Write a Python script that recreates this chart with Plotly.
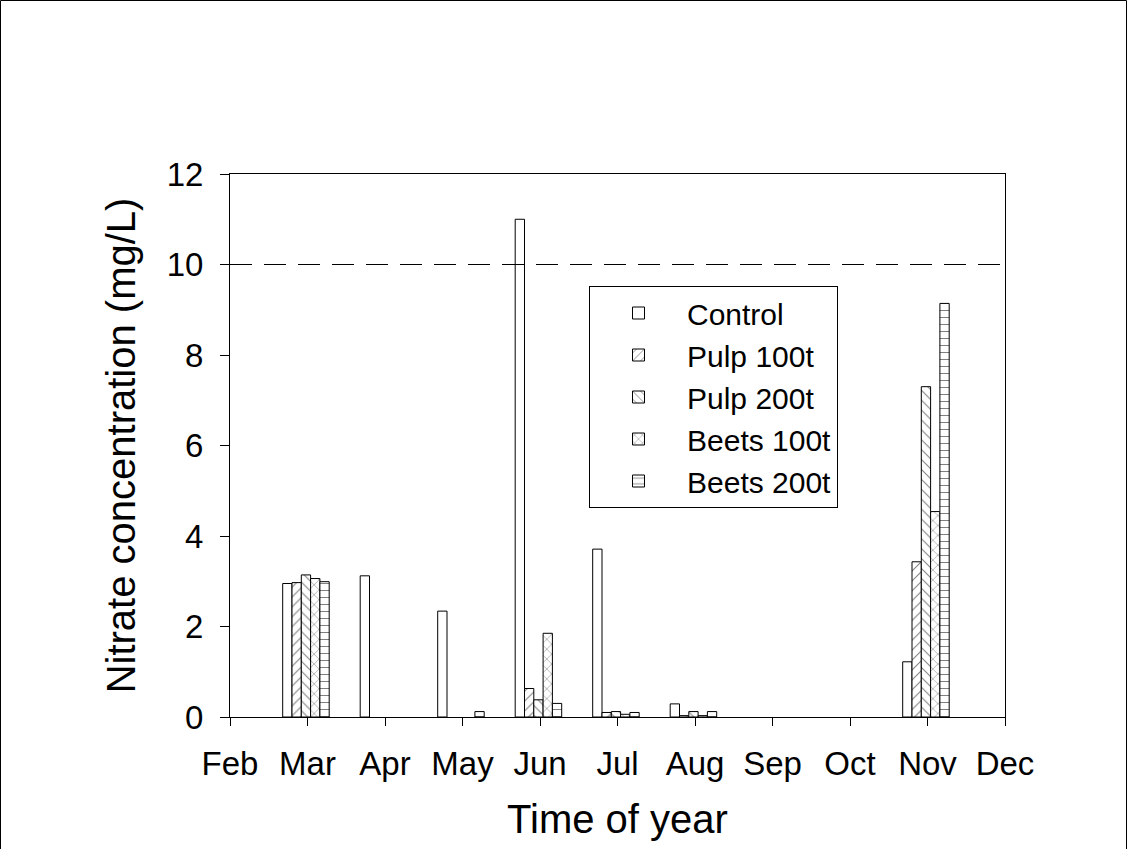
import plotly.graph_objects as go

# ---- data ----
sample_month = [2.98, 3.98, 4.98, 5.98, 6.98, 7.98, 10.98]
control = [2.95, 3.12, 2.34, 11.0, 3.71, 0.29, 1.22]
pulp_100t = [2.97, None, None, 0.63, 0.10, 0.03, 3.43]
pulp_200t = [3.14, None, None, 0.38, 0.12, 0.12, 7.30]
beets_100t = [3.06, None, None, 1.85, 0.06, 0.03, 4.54]
beets_200t = [2.99, None, 0.12, 0.30, 0.10, 0.12, 9.14]

series_names = ["Control", "Pulp 100t", "Pulp 200t", "Beets 100t", "Beets 200t"]
series_values = [control, pulp_100t, pulp_200t, beets_100t, beets_200t]
series_patterns = ["", "/", "\\", "x", "-"]

month_ticks = [2, 3, 4, 5, 6, 7, 8, 9, 10, 11, 12]
month_labels = ["Feb", "Mar", "Apr", "May", "Jun", "Jul", "Aug", "Sep", "Oct", "Nov", "Dec"]
limit_value = 10

FONT = "Liberation Sans, Arial, sans-serif"

fig = go.Figure()
for name, vals, pat in zip(series_names, series_values, series_patterns):
    fig.add_trace(go.Bar(
        x=sample_month, y=vals, name=name,
        marker=dict(
            color="white",
            line=dict(color="black", width=1),
            pattern=dict(shape=pat, fgcolor="black", bgcolor="white",
                         size=7, solidity=0.15, fillmode="overlay"),
        ),
    ))

fig.add_shape(type="line", xref="paper", x0=0, x1=1, yref="y",
              y0=limit_value, y1=limit_value,
              line=dict(color="black", width=1, dash="22px,12px"), layer="above")

# outer frame of the picture
W, H = 1128, 849
L, R, T, B = 230, 123, 174, 132
pw, ph = W - L - R, H - T - B
fig.add_shape(type="rect", xref="paper", yref="paper",
              x0=(0.5 - L) / pw, x1=(W - 1.5 - L) / pw,
              y0=(H - T - ph - (H - 1.5)) / ph, y1=(ph + T - 0.5) / ph,
              line=dict(color="black", width=1), fillcolor="rgba(0,0,0,0)")

fig.update_layout(
    width=W, height=H,
    margin=dict(l=L, r=R, t=T, b=B),
    paper_bgcolor="white", plot_bgcolor="white",
    font=dict(family=FONT, size=33, color="black"),
    barmode="group", bargap=0.4, bargroupgap=0,
    showlegend=True,
    legend=dict(
        x=(589 - L) / pw, y=(H - B - 286) / ph, xanchor="left", yanchor="top",
        bgcolor="white", bordercolor="black", borderwidth=1,
        font=dict(family=FONT, size=30, color="black"),
        itemwidth=87, traceorder="normal",
    ),
    xaxis=dict(
        range=[2, 12], tickmode="array", tickvals=month_ticks, ticktext=month_labels,
        ticks="outside", ticklen=8, tickwidth=1, tickcolor="black",
        showline=True, linecolor="black", linewidth=1, mirror=True,
        showgrid=False, zeroline=False,
        title=dict(text="Time of year", standoff=24),
        ticklabelstandoff=9,
    ),
    yaxis=dict(
        range=[0, 12], dtick=2, tick0=0,
        ticks="outside", ticklen=9, tickwidth=1, tickcolor="black",
        showline=True, linecolor="black", linewidth=1, mirror=True,
        showgrid=False, zeroline=False,
        title=dict(text="Nitrate concentration (mg/L)", standoff=18),
        ticklabelstandoff=10,
    ),
)

fig.write_html("out.html")
